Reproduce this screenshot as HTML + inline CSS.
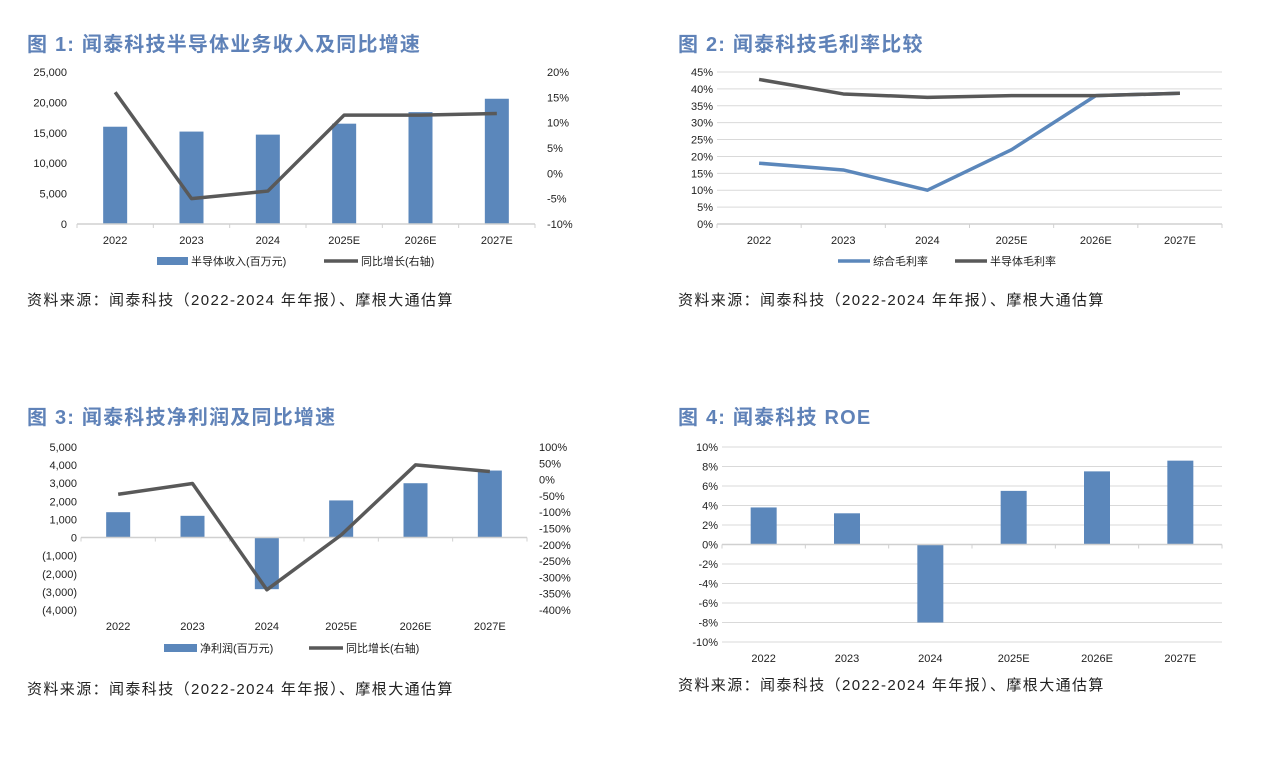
<!DOCTYPE html>
<html><head><meta charset="utf-8"><style>
body{margin:0;background:#fff;}
svg text{font-family:"Liberation Sans","Noto Sans CJK SC",sans-serif;}
.tk{font-size:11px;fill:#222;}
.tt{font-size:20px;font-weight:bold;fill:#5f82b8;letter-spacing:1.2px;}
.src{font-size:15px;fill:#222;letter-spacing:1.4px;}
.lg{font-size:11px;fill:#222;}
</style></head><body>
<svg id="s" width="1266" height="752" xmlns="http://www.w3.org/2000/svg">
<text class="tt" x="27" y="51">图 1: 闻泰科技半导体业务收入及同比增速</text>
<text class="tt" x="678" y="51">图 2: 闻泰科技毛利率比较</text>
<text class="tt" x="27" y="424">图 3: 闻泰科技净利润及同比增速</text>
<text class="tt" x="678" y="424">图 4: 闻泰科技 ROE</text>
<text class="src" x="27" y="305">资料来源：闻泰科技（2022-2024 年年报）、摩根大通估算</text>
<text class="src" x="678" y="305">资料来源：闻泰科技（2022-2024 年年报）、摩根大通估算</text>
<text class="src" x="27" y="694">资料来源：闻泰科技（2022-2024 年年报）、摩根大通估算</text>
<text class="src" x="678" y="690">资料来源：闻泰科技（2022-2024 年年报）、摩根大通估算</text>
<g id="g1"></g><g id="g2"></g><g id="g3"></g><g id="g4"></g>
</svg>
<script>
const cats = ["2022","2023","2024","2025E","2026E","2027E"];
const rev = [16000,15200,14700,16500,18400,20600];
const revGrowth = [16,-5,-3.5,11.5,11.5,11.8];
const revTicks = ["0","5,000","10,000","15,000","20,000","25,000"];
const revGrowthTicks = ["-10%","-5%","0%","5%","10%","15%","20%"];
const grossTotal = [18,16,10,22,38,38.7];
const grossSemi = [42.8,38.5,37.5,38,38,38.7];
const gmTicks = ["0%","5%","10%","15%","20%","25%","30%","35%","40%","45%"];
const np = [1400,1200,-2850,2050,3000,3700];
const npGrowth = [-45,-12,-338,-170,45,25];
const npTicks = ["(4,000)","(3,000)","(2,000)","(1,000)","0","1,000","2,000","3,000","4,000","5,000"];
const npGrowthTicks = ["-400%","-350%","-300%","-250%","-200%","-150%","-100%","-50%","0%","50%","100%"];
const roe = [3.8,3.2,-8.0,5.5,7.5,8.6];
const roeTicks = ["-10%","-8%","-6%","-4%","-2%","0%","2%","4%","6%","8%","10%"];

const NS="http://www.w3.org/2000/svg";
function mk(p,t,a,txt){const e=document.createElementNS(NS,t);for(const k in a)e.setAttribute(k,a[k]);if(txt!==undefined)e.textContent=txt;p.appendChild(e);return e;}
function lin(d0,d1,r0,r1){return v=>r0+(v-d0)/(d1-d0)*(r1-r0);}
const BLUE="#5b87bb",GRAY="#595959";

function chart(g,o){
  const band=(o.x1-o.x0)/cats.length;
  const cx=i=>o.x0+band*(i+0.5);
  const yL=lin(o.lmin,o.lmax,o.yb,o.yt);
  o.lt.forEach((t,i)=>{const v=o.lmin+i*o.lstep;const y=yL(v);
    if(o.grid){const gl=mk(g,'line',{x1:o.x0,x2:o.x1,y1:y,y2:y,stroke:'#d9d9d9','stroke-width':1});
      
      }
    const tx=mk(g,'text',{class:'tk',x:o.x0-o.lpad,y:y+4,'text-anchor':'end'},t);
    
    });
  let yR=null;
  if(o.rt){yR=lin(o.rmin,o.rmax,o.yb,o.yt);
    o.rt.forEach((t,i)=>{const v=o.rmin+i*o.rstep;
      const tx=mk(g,'text',{class:'tk',x:o.x1+12,y:yR(v)+4},t);
      
      });}
  const y0=yL(0);
  if(o.bars){o.bars.forEach((v,i)=>{const w=o.bw;const y=Math.min(yL(v),y0);
    const r=mk(g,'rect',{x:cx(i)-w/2,y:y,width:w,height:Math.abs(yL(v)-y0),fill:BLUE});
    
    });}
  const ax=mk(g,'line',{x1:o.x0,x2:o.x1,y1:y0,y2:y0,stroke:'#d0d0d0','stroke-width':1.5});
  
  
  for(let i=0;i<=cats.length;i++){mk(g,'line',{x1:o.x0+band*i,x2:o.x0+band*i,y1:y0,y2:y0+4,stroke:'#d0d0d0'});}
  cats.forEach((c,i)=>{const tx=mk(g,'text',{class:'tk',x:cx(i),y:o.ly,'text-anchor':'middle'},c);
    
    });
  (o.lines||[]).forEach(L=>{const sc=L.right?yR:yL;
    const p=mk(g,'polyline',{points:L.d.map((v,i)=>cx(i)+','+sc(v)).join(' '),fill:'none',stroke:L.c,'stroke-width':3.5,'stroke-linejoin':'round'});
    
    });
}
function legend(g,items,y){items.forEach(it=>{
  if(it.rect){const r=mk(g,'rect',{x:it.x,y:y-4,width:it.w,height:8,fill:BLUE});
    
    }
  else{const l=mk(g,'line',{x1:it.x,x2:it.x+it.w,y1:y,y2:y,stroke:it.c,'stroke-width':3.5});
    
    }
  const t=mk(g,'text',{class:'lg',x:it.x+it.w+3,y:y+4},it.t);
  
  });}

const g1=document.getElementById('g1'),g2=document.getElementById('g2'),g3=document.getElementById('g3'),g4=document.getElementById('g4');
chart(g1,{x0:77,x1:535,yt:72,yb:224,lmin:0,lmax:25000,lstep:5000,lt:revTicks,lpad:10,rmin:-10,rmax:20,rstep:5,rt:revGrowthTicks,bars:rev,bw:24,ly:244,
  lines:[{d:revGrowth,right:true,c:GRAY,name:'growth-line'}]});
legend(g1,[{rect:1,x:157,w:31,t:'半导体收入(百万元)'},{x:324,w:34,c:GRAY,t:'同比增长(右轴)'}],261);
chart(g2,{x0:717,x1:1222,yt:72,yb:224,lmin:0,lmax:45,lstep:5,lt:gmTicks,lpad:4,grid:1,ly:244,
  lines:[{d:grossTotal,c:BLUE,name:'total-gross-margin-line'},{d:grossSemi,c:GRAY,name:'semi-gross-margin-line'}]});
legend(g2,[{x:838,w:32,c:BLUE,t:'综合毛利率'},{x:955,w:32,c:GRAY,t:'半导体毛利率'}],261);
chart(g3,{x0:81,x1:527,yt:447,yb:610,lmin:-4000,lmax:5000,lstep:1000,lt:npTicks,lpad:4,rmin:-400,rmax:100,rstep:50,rt:npGrowthTicks,bars:np,bw:24,ly:630,
  lines:[{d:npGrowth,right:true,c:GRAY,name:'growth-line'}]});
legend(g3,[{rect:1,x:164,w:33,t:'净利润(百万元)'},{x:309,w:34,c:GRAY,t:'同比增长(右轴)'}],648);
chart(g4,{x0:722,x1:1222,yt:447,yb:642,lmin:-10,lmax:10,lstep:2,lt:roeTicks,lpad:4,grid:1,bars:roe,bw:26,ly:662});
</script>
</body></html>
